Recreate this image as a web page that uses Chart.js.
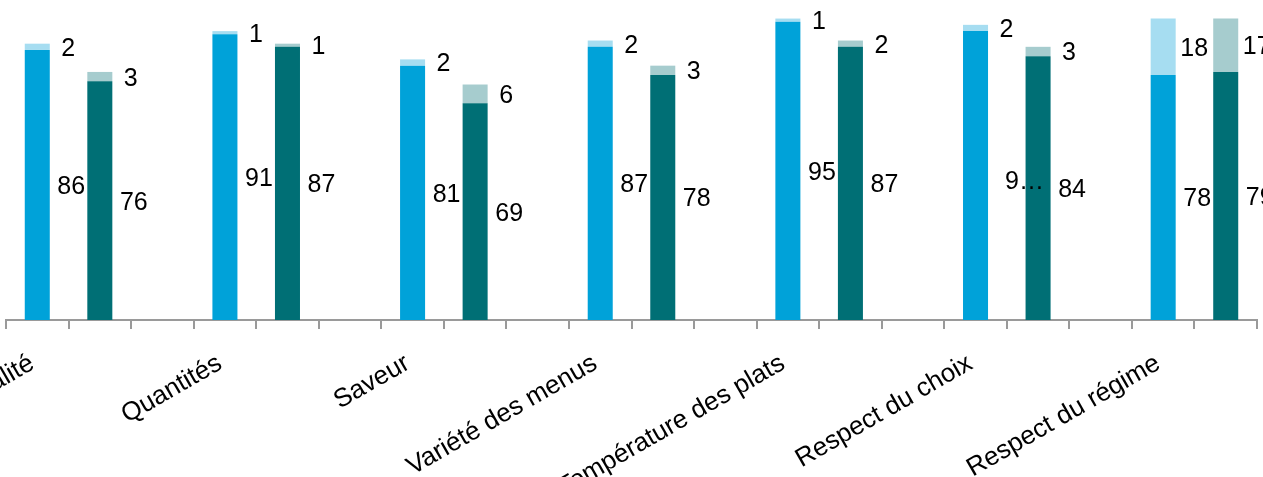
<!DOCTYPE html>
<html>
<head>
<meta charset="utf-8">
<script src="https://cdn.jsdelivr.net/npm/chart.js@4"></script>
<style>
    body { margin: 0; background: #fff; overflow: hidden; }
    #grafico { display: block; }
</style>
</head>
<body>
<canvas id="grafico" width="1263" height="477"></canvas>
<script>
///////////////////////////////////////////////// Dati del grafico //////////////////////////////////////////////
const categorie = ["Qualité", "Quantités", "Saveur", "Variété des menus", "Température des plats", "Respect du choix", "Respect du régime"];
const bluPrincipale = [86, 91, 81, 87, 95, 92, 78];
const bluSopra = [2, 1, 2, 2, 1, 2, 18];
const verdePrincipale = [76, 87, 69, 78, 87, 84, 79];
const verdeSopra = [3, 1, 6, 3, 2, 3, 17];
// etichette che nell'originale sono tagliate ("9…")
const etichetteTagliate = [5];

const nSlot = 20; // 3 posti per categoria, l'ultimo vuoto e' fuori dall'immagine

///////////////////////////////////////////////// Preparazione slot //////////////////////////////////////////////
const etichetteAsse = [];
for (let i = 0; i < nSlot; i++) {
    etichetteAsse.push(i % 3 === 0 ? categorie[i / 3] : "");
}

const metti = function (valori, posto) {
    const arr = new Array(nSlot).fill(null);
    valori.forEach((v, k) => {
        const idx = k * 3 + posto;
        if (idx < nSlot) arr[idx] = v;
    });
    return arr;
};

const tagliate = etichetteTagliate.map(k => k * 3);

///////////////////////////////////////////////// Plugin etichette valori //////////////////////////////////////////////
const etichetteValori = {
    id: "etichetteValori",
    afterDatasetsDraw(chart) {
        const ctx = chart.ctx;
        ctx.save();
        ctx.font = '25px "Liberation Sans", Arial, sans-serif';
        ctx.fillStyle = "#000";
        ctx.textBaseline = "middle";
        ctx.textAlign = "center";
        chart.data.datasets.forEach((ds, di) => {
            const meta = chart.getDatasetMeta(di);
            meta.data.forEach((barra, i) => {
                const v = ds.data[i];
                if (v == null) return;
                const p = barra.getProps(["x", "y", "base"], true);
                let testo = String(v);
                let dx = ds.sopra ? 31 : 34;
                let dy = 2;
                if (!ds.sopra && tagliate.includes(i)) {
                    testo = testo[0] + "…";
                    dx = 49;
                    dy = 7;
                }
                ctx.fillText(testo, p.x + dx, (p.y + p.base) / 2 + dy);
            });
        });
        ctx.restore();
    }
};

///////////////////////////////////////////////// Grafico //////////////////////////////////////////////
const canvas = document.getElementById("grafico");
const grafico = new Chart(canvas, {
    type: "bar",
    data: {
        labels: etichetteAsse,
        datasets: [
            { data: metti(bluPrincipale, 0), backgroundColor: "#00A2D9", sopra: false },
            { data: metti(bluSopra, 0), backgroundColor: "#A6DDF1", sopra: true },
            { data: metti(verdePrincipale, 1), backgroundColor: "#006F75", sopra: false },
            { data: metti(verdeSopra, 1), backgroundColor: "#A6CCCE", sopra: true },
        ],
    },
    options: {
        responsive: false,
        animation: false,
        barPercentage: 0.4,
        categoryPercentage: 1,
        layout: { padding: { top: 6, left: 6, right: 6, bottom: 0 } },
        plugins: {
            legend: { display: false },
            tooltip: { enabled: false },
        },
        scales: {
            x: {
                stacked: true,
                grid: {
                    display: true,
                    drawOnChartArea: false,
                    drawTicks: true,
                    tickLength: 9,
                    color: "#9a9a9a",
                    lineWidth: 2,
                },
                border: { display: true, color: "#9a9a9a", width: 2 },
                ticks: {
                    autoSkip: false,
                    minRotation: 30,
                    maxRotation: 30,
                    padding: 19,
                    labelOffset: -5,
                    color: "#000",
                    font: { family: '"Liberation Sans", Arial, sans-serif', size: 26 },
                },
                afterFit(scala) {
                    scala.height = 157;
                    scala.paddingLeft = 0;
                    scala.paddingRight = 0;
                },
            },
            y: {
                stacked: true,
                display: false,
                min: 0,
                max: 100,
            },
        },
    },
    plugins: [etichetteValori],
});
</script>
</body>
</html>
